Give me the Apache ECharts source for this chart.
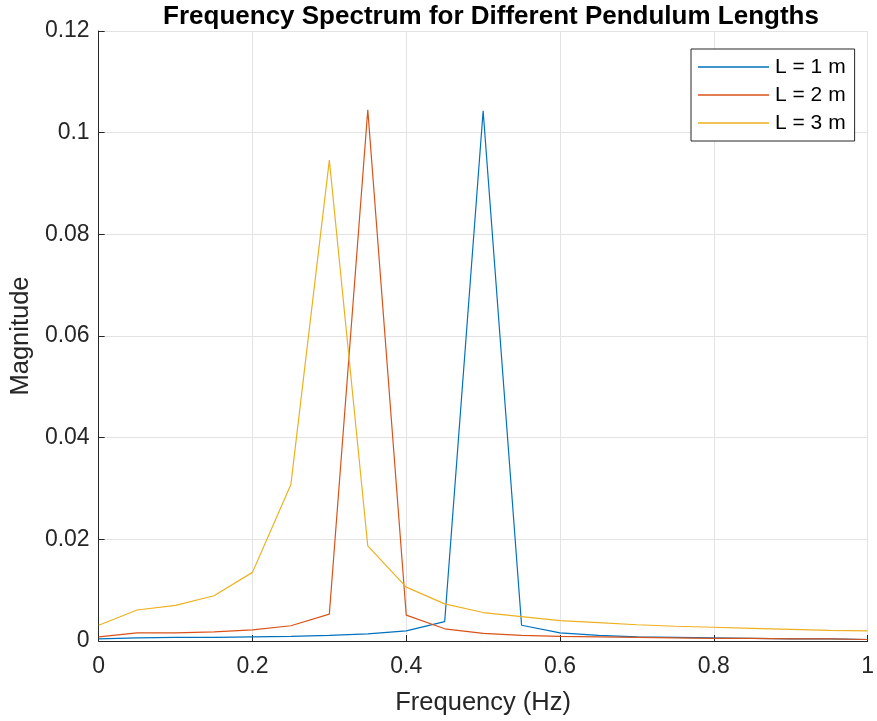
<!DOCTYPE html>
<html>
<head>
<meta charset="utf-8">
<script src="https://cdn.jsdelivr.net/npm/echarts@6/dist/echarts.min.js"></script>
<style>
  html, body { margin: 0; padding: 0; background: #fff; }
  #chart { width: 877px; height: 721px; }
</style>
</head>
<body>
<div id="chart"></div>
<script>
// frequency bins (Hz)
const freq = [0, 0.05, 0.1, 0.15, 0.2, 0.25, 0.3, 0.35, 0.4, 0.45, 0.5,
              0.55, 0.6, 0.65, 0.7, 0.75, 0.8, 0.85, 0.9, 0.95, 1.0];

// magnitudes
const magL1 = [0.0004, 0.0006, 0.0007, 0.0007, 0.0008, 0.0009, 0.0011, 0.0014, 0.0020, 0.0038, 0.1043,
               0.0031, 0.0016, 0.0011, 0.0008, 0.0007, 0.0006, 0.0005, 0.0004, 0.0004, 0.0003];
const magL2 = [0.0008, 0.0016, 0.0016, 0.0018, 0.0022, 0.0030, 0.0053, 0.1045, 0.0051, 0.0024, 0.0015,
               0.0011, 0.0009, 0.0008, 0.0007, 0.0006, 0.0005, 0.0005, 0.0004, 0.0004, 0.0003];
const magL3 = [0.0031, 0.0061, 0.0070, 0.0089, 0.0135, 0.0308, 0.0946, 0.0187, 0.0106, 0.0073, 0.0056,
               0.0048, 0.0040, 0.0036, 0.0032, 0.0029, 0.0027, 0.0025, 0.0023, 0.0021, 0.0020];

const seriesNames = ["L = 1 m", "L = 2 m", "L = 3 m"];
const seriesColors = ["#0072BD", "#D95319", "#EDB120"];

const FONT = "Liberation Sans, Arial, Helvetica, sans-serif";
const AX = "#262626";

const chart = echarts.init(document.getElementById("chart"));

const toPairs = (ys) => freq.map((f, i) => [f, ys[i]]);

chart.setOption({
  animation: false,
  textStyle: { fontFamily: FONT },
  title: {
    text: "Frequency Spectrum for Different Pendulum Lengths",
    left: 486,
    textAlign: "center",
    top: -1,
    textStyle: { fontFamily: FONT, fontSize: 26, fontWeight: "bold", color: "#000" },
  },
  grid: { left: 98, right: 5, top: 31, bottom: 79 },
  legend: {
    orient: "vertical",
    left: 691,
    top: 49,
    data: seriesNames.map((n) => ({ name: n, icon: "rect" })),
    itemWidth: 71,
    itemHeight: 1.4,
    itemGap: 6,
    padding: [7, 9, 7, 7],
    backgroundColor: "#fff",
    borderColor: AX,
    borderWidth: 1,
    borderRadius: 0,
    textStyle: { fontFamily: FONT, fontSize: 21, color: "#000", lineHeight: 22, padding: [0, 0, 0, 1] },
  },
  xAxis: {
    type: "value",
    min: 0,
    max: 1,
    interval: 0.2,
    name: "Frequency (Hz)",
    nameLocation: "middle",
    nameGap: 49,
    nameTextStyle: { fontFamily: FONT, fontSize: 25.5, color: AX },
    axisLine: { show: true, lineStyle: { color: AX, width: 1 } },
    axisTick: { show: true, inside: true, length: 6, lineStyle: { color: AX } },
    axisLabel: { fontFamily: FONT, fontSize: 23, color: AX, margin: 14 },
    splitLine: { show: true, lineStyle: { color: "#e3e3e3", width: 1 } },
  },
  yAxis: {
    type: "value",
    min: 0,
    max: 0.12,
    interval: 0.02,
    name: "Magnitude",
    nameLocation: "middle",
    nameRotate: 90,
    nameGap: 61,
    nameTextStyle: { fontFamily: FONT, fontSize: 25.5, color: AX },
    axisLine: { show: true, lineStyle: { color: AX, width: 1 } },
    axisTick: { show: true, inside: true, length: 6, lineStyle: { color: AX } },
    axisLabel: { fontFamily: FONT, fontSize: 23, color: AX, margin: 9 },
    splitLine: { show: true, lineStyle: { color: "#e3e3e3", width: 1 } },
  },
  series: [magL1, magL2, magL3].map((ys, i) => ({
    name: seriesNames[i],
    type: "line",
    data: toPairs(ys),
    showSymbol: false,
    symbol: "none",
    color: seriesColors[i],
    lineStyle: { color: seriesColors[i], width: 1.2 },
  })),
});
</script>
</body>
</html>
